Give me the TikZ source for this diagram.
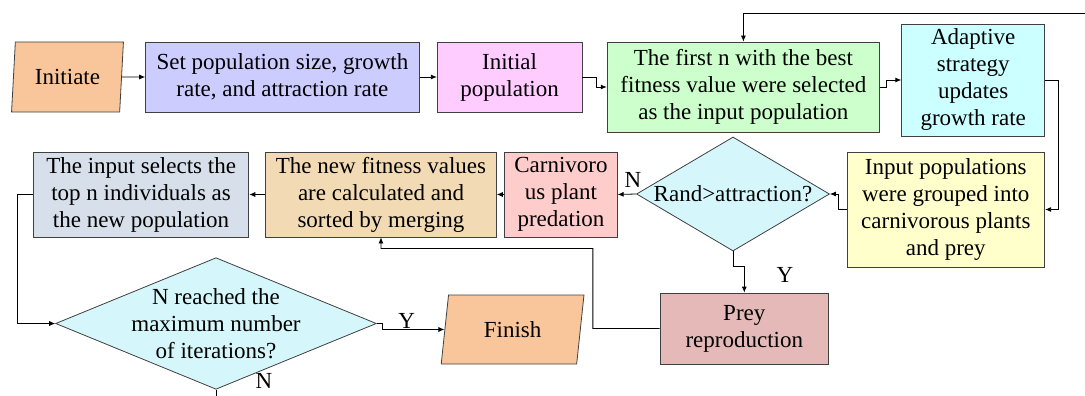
\documentclass[tikz,border=0pt]{standalone}
\usepackage{fontspec}
\setmainfont{Liberation Serif}
\usepackage{tikz}
\usetikzlibrary{arrows.meta,shapes.geometric}
\definecolor{edge}{HTML}{404040}
\definecolor{peach}{HTML}{F9C59B}
\definecolor{lavender}{HTML}{CCCCFF}
\definecolor{pinkish}{HTML}{FFCCFF}
\definecolor{mint}{HTML}{CCFFCC}
\definecolor{skyish}{HTML}{CCFFFF}
\definecolor{cream}{HTML}{FFFFCC}
\definecolor{aqua}{HTML}{D5F6FA}
\definecolor{rose}{HTML}{FFCCCC}
\definecolor{wheat}{HTML}{F2DBB4}
\definecolor{steel}{HTML}{D6DFEA}
\definecolor{dusty}{HTML}{E5B9B7}
\tikzset{
  box/.style={rectangle, draw=edge, line width=0.8pt, align=center, inner sep=0pt,
              font=\fontsize{23}{27}\selectfont},
  termbox/.style={box, trapezium, trapezium stretches=true, fill=peach},
  decide/.style={box, diamond, inner sep=0pt},
  flow/.style={-{Latex[length=6pt,width=5pt]}, draw=black, line width=0.8pt},
  yn/.style={font=\fontsize{23}{27}\selectfont, inner sep=0pt},
}

\begin{document}
\begin{tikzpicture}[x=1pt,y=-1pt]
\useasboundingbox (0,0) rectangle (1085,396);
% top row
\node[termbox, trapezium left angle=81.3, trapezium right angle=98.7,
      minimum width=112pt, minimum height=70pt] (init) at (67.5,77) {Initiate};
\node[box, fill=lavender, minimum width=273.6pt, minimum height=70pt] (setpop) at (282.4,77)
 {Set population size, growth\\rate, and attraction rate};
\node[box, fill=pinkish, minimum width=144.7pt, minimum height=70pt] (initpop) at (509.6,77)
 {Initial\\population};
\node[box, fill=mint, minimum width=272.5pt, minimum height=90pt] (select) at (743.4,87)
 {The first n with the best\\fitness value were selected\\as the input population};
\node[box, fill=skyish, minimum width=142.9pt, minimum height=112pt] (adapt) at (973.2,80)
 {Adaptive\\strategy\\updates\\growth rate};
% middle row
\node[box, fill=cream, minimum width=197.8pt, minimum height=115pt] (group) at (945.8,209.5)
 {Input populations\\were grouped into\\carnivorous plants\\and prey};
\node[decide, fill=aqua, aspect=1.69, minimum width=193pt, minimum height=114pt] (rand) at (733,194)
 {Rand>attraction?};
\node[box, fill=rose, minimum width=112.5pt, minimum height=85pt] (carn) at (561,194.5)
 {Carnivoro\\us plant\\predation};
\node[box, fill=wheat, minimum width=230.7pt, minimum height=85pt] (merge) at (381,194.5)
 {The new fitness values\\are calculated and\\sorted by merging};
\node[box, fill=steel, minimum width=215.5pt, minimum height=85pt] (topn) at (141.1,194.5)
 {The input selects the\\top n individuals as\\the new population};
% bottom row
\node[box, fill=dusty, minimum width=168.5pt, minimum height=71pt] (prey) at (744.3,328.5)
 {Prey\\reproduction};
\node[decide, fill=aqua, aspect=2.44, inner xsep=-15pt, minimum width=320.8pt, minimum height=131.6pt]
 (reach) at (216,323.5) {N reached the\\maximum number\\of iterations?};
\node[termbox, trapezium left angle=78.5, trapezium right angle=101.5,
      minimum width=143.8pt, minimum height=69pt] (finish) at (512.6,329.5) {Finish};
\coordinate (loop) at (1095,13);
\coordinate (exit) at (216,402);

% connectors
\draw[flow] (init) -- (setpop);
\draw[flow] (setpop) -- (initpop);
\draw[flow] (initpop.east) -- ++(13.6,0) |- (select.west);
\draw[flow] (select.east) -- ++(6.2,0) |- (adapt.west);
\draw[flow] (adapt.east) -- ++(13.5,0) |- (group.east);
\draw[flow] (group.west) -- ++(-8,0) |- (rand.east);
\draw[flow] (rand.west) -- (carn.east);
\draw[flow] (rand.south) -- ++(0,15) -| (prey.north);
\draw[flow] (carn.west) -- (merge.east);
\draw[flow] (merge.west) -- (topn.east);
\draw[flow] (prey.west) -- ++(-66.8,0) |- ++(-211.9,-80) -- (merge.south);
\draw[flow] (topn.west) -- ++(-16,0) |- (reach.west);
\draw[flow] (reach.east) -- ++(6,0) |- (finish.west);
\draw[flow] (loop) -| (select.north);
\draw[line width=0.8pt] (reach.south) -- (exit);
% branch labels
\node[yn] (nrand) at (633,180) {N};
\node[yn] (yrand) at (785,275) {Y};
\node[yn] (yreach) at (406.7,321) {Y};
\node[yn] (nreach) at (264,381) {N};
\end{tikzpicture}
\end{document}
